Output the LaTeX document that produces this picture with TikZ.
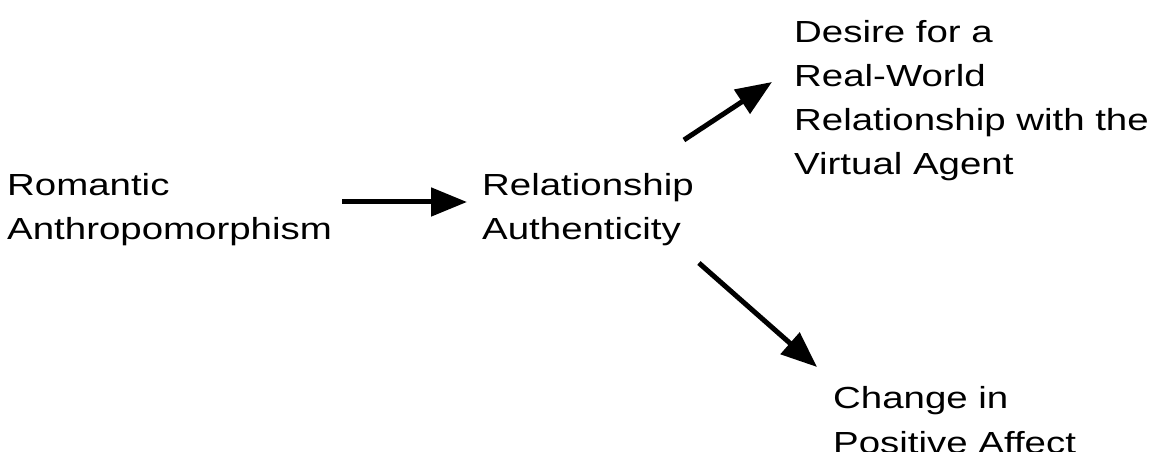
\documentclass[tikz,border=0pt]{standalone}
\usepackage{fontspec}
\setmainfont{Liberation Sans}[FakeStretch=1.26]
\usetikzlibrary{arrows.meta}
\begin{document}
\begin{tikzpicture}[x=1pt,y=1pt,
  lbl/.style={anchor=base west,inner sep=0pt,align=left,
    font=\fontsize{30.5pt}{44pt}\selectfont},
  arr/.style={line width=5pt,-{Triangle[length=36pt,width=28pt]}}]
\useasboundingbox[fill=white] (0,0) rectangle (1153,452);
\node[lbl] (rom) at (7,212) {Romantic\\Anthropomorphism};
\node[lbl] (rel) at (482,212) {Relationship\\Authenticity};
\node[lbl] (des) at (794,277) {Desire for a\\Real-World\\Relationship with the\\Virtual Agent};
\node[lbl] (chg) at (833,-1) {Change in\\Positive Affect};
\draw[arr] ([shift={(10pt,38pt)}]rom.base east) -- ([shift={(-15pt,38pt)}]rel.base west);
\draw[arr] ([shift={(-10pt,100pt)}]rel.base east) -- ([shift={(-22pt,93pt)}]des.base west);
\draw[arr] ([shift={(5pt,-23pt)}]rel.base east) -- ([shift={(-16pt,86pt)}]chg.base west);
\end{tikzpicture}
\end{document}
